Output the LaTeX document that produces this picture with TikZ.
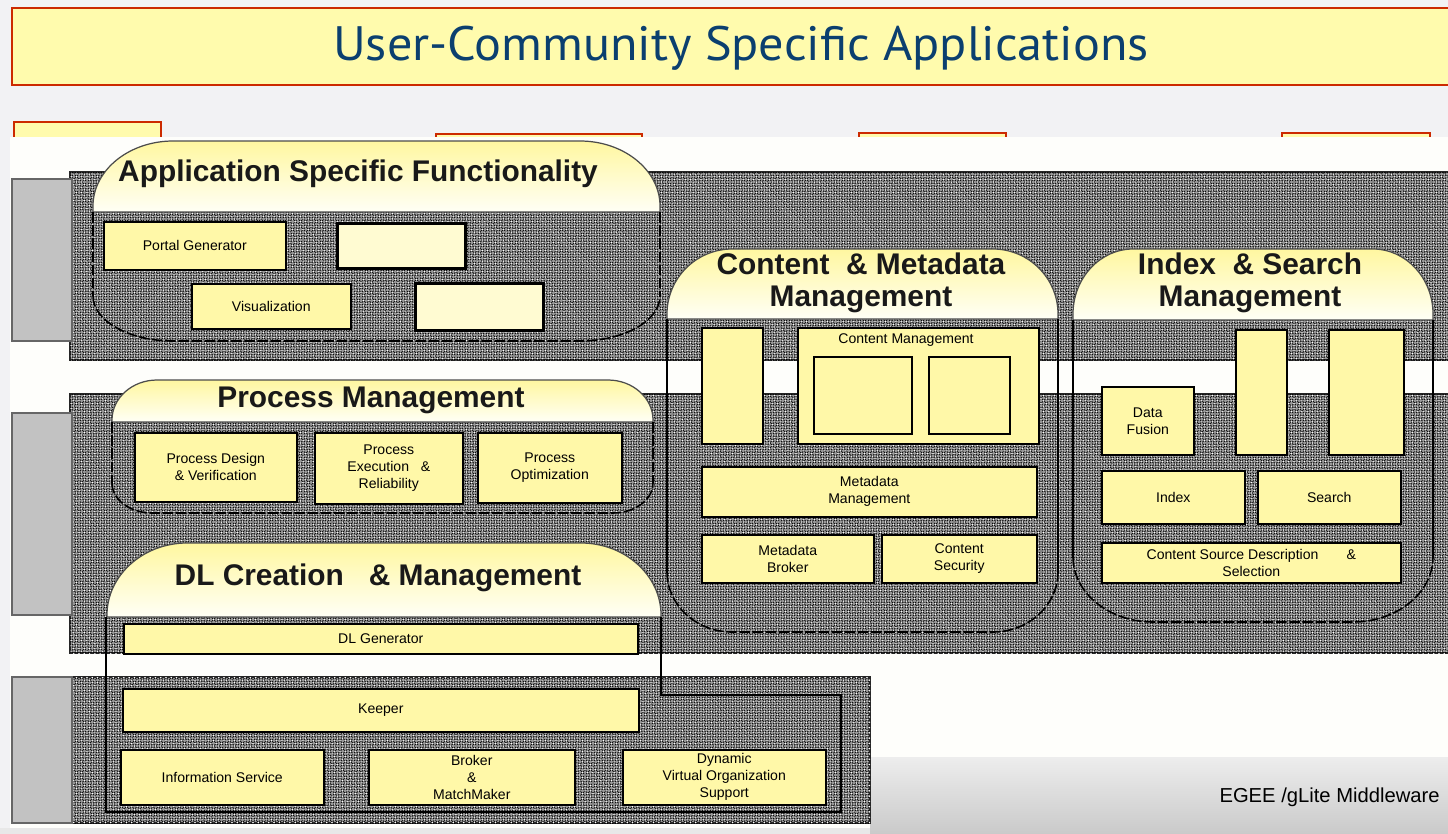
\documentclass[tikz,border=0pt]{standalone}
\usepackage{fontspec}
\setmainfont{Liberation Sans}
\newfontfamily\titlefont{PT Sans}
\usetikzlibrary{patterns}
\definecolor{bgc}{HTML}{F2F2F4}
\definecolor{banfill}{HTML}{FFFBAD}
\definecolor{banred}{HTML}{CC2A00}
\definecolor{titleblue}{HTML}{0B3F6F}
\definecolor{boxy}{HTML}{FFF8A8}
\definecolor{paley}{HTML}{FFFBD2}
\definecolor{tabg}{HTML}{C2C2C2}
\definecolor{hdrtop}{HTML}{FFF7A0}
\definecolor{hdrbot}{HTML}{FFFFF6}
\definecolor{panelc}{HTML}{FEFEFB}
\tikzset{
  hatchband/.style={fill=black!40, postaction={pattern=crosshatch, pattern color=black}, postaction={pattern=crosshatch dots, pattern color=white}, draw=black!85, line width=0.8pt},
  graytab/.style={fill=tabg, draw=black!60, line width=0.8pt},
  banbox/.style={fill=banfill, draw=banred, line width=1.2pt},
  hdrfill/.style={top color=hdrtop, bottom color=hdrbot, draw=black!70, line width=0.7pt},
  grpdash/.style={draw=black, line width=0.9pt, dash pattern=on 6pt off 1.5pt},
  grpline/.style={draw=black, line width=0.8pt},
  ybox/.style={draw=black, line width=0.9pt, fill=boxy, inner sep=1pt, align=center, font=\fontsize{8}{9.7}\selectfont},
  innerbox/.style={draw=black, line width=1.2pt, fill=boxy, inner sep=0pt},
  blankbox/.style={draw=black, line width=1.8pt, fill=paley, inner sep=0pt},
  hdrtext/.style={font=\fontsize{17}{18.2}\selectfont\bfseries, text=black!90, align=center, inner sep=0pt}
}
\newcommand\mybox[7]{\node[#6, anchor=north west, minimum width={(#4-#2)*0.02cm}, minimum height={(#5-#3)*0.02cm}] (#1) at (#2,#3) {#7};}
% header shape: x1 x2 ytop ybottom rx ry
\newcommand\hdrshape[6]{\path[hdrfill] (#1,#4) -- (#1,#3+#6) .. controls (#1,#3+0.45*#6) and (#1+0.45*#5,#3) .. (#1+#5,#3) -- (#2-#5,#3) .. controls (#2-0.45*#5,#3) and (#2,#3+0.45*#6) .. (#2,#3+#6) -- (#2,#4) -- cycle;}
% body outline: x1 x2 ytop ybottom rx ry, style for verticals
\newcommand\bodyline[7]{\draw[#7] (#1,#3) -- (#1,#4-#6);
  \draw[#7] (#2,#3) -- (#2,#4-#6);
  \draw[grpdash] (#1,#4-#6) .. controls (#1,#4-0.45*#6) and (#1+0.45*#5,#4) .. (#1+#5,#4) -- (#2-#5,#4) .. controls (#2-0.45*#5,#4) and (#2,#4-0.45*#6) .. (#2,#4-#6);}
\begin{document}
\begin{tikzpicture}[x=0.02cm, y=-0.02cm]
\useasboundingbox (0,0) rectangle (1448,833);
% background
\fill[bgc] (0,0) rectangle (1448,833);
% banner
\path[banbox] (12,8) rectangle (1470,85);
\node[font=\titlefont\fontsize{27.5}{30}\selectfont, text=titleblue, xscale=1.04] (title) at (741,48) {User-Community Specific Applications};
% small boxes hidden by panel
\path[banbox] (14,122) rectangle (161,160);
\path[banbox] (436,134) rectangle (642,160);
\path[banbox] (859,133) rectangle (1006,160);
\path[banbox] (1282,133) rectangle (1430,160);
% white panel
\fill[panelc] (10,137) -- (1460,137) -- (1460,757) -- (870,757) -- (870,828) -- (10,828) -- cycle;
\shade[top color=black!7, bottom color=black!22] (870,757) rectangle (1460,840);
\fill[black!9] (0,828) rectangle (870,840);
% bands
\path[hatchband] (70,172) rectangle (1470,360);
\path[hatchband] (70,394) rectangle (1470,653);
\path[hatchband] (72,677) rectangle (870,823);
% grey tabs
\path[graytab] (12,179) rectangle (72,341);
\path[graytab] (12,413) rectangle (72,615);
\path[graytab] (12,677) rectangle (72,823);
% group headers
\hdrshape{93}{660}{141}{212}{80}{65}
\hdrshape{112}{653}{380}{422}{45}{40}
\hdrshape{107}{661}{543}{617}{80}{72}
\hdrshape{667}{1058}{249}{319}{65}{65}
\hdrshape{1073}{1433}{249}{320}{60}{65}
% group outlines
\bodyline{93}{660}{212}{341}{80}{45}{grpdash}
\bodyline{112}{653}{422}{513}{40}{30}{grpdash}
\bodyline{667}{1058}{319}{632}{65}{60}{grpline}
\bodyline{1073}{1433}{320}{622}{80}{65}{grpline}
\draw[grpline, line width=1pt] (106,617) -- (106,812) -- (841,812) -- (841,695) -- (661,695) -- (661,617);
% header texts
\node[hdrtext] (hA) at (358,174) {Application Specific Functionality};
\node[hdrtext] (hB) at (371,400) {Process Management};
\node[hdrtext] (hC) at (378,578) {DL Creation\ \ \ \& Management};
\node[hdrtext] (hD) at (861,283) {Content\ \ \& Metadata\\Management};
\node[hdrtext] (hE) at (1250,283) {Index\ \ \& Search\\Management};
% application specific functionality
\mybox{pg}{103}{221}{285}{269}{ybox}{Portal Generator}
\mybox{bA1}{336}{222}{464}{267}{blankbox}{}
\mybox{vis}{191}{283}{350}{328}{ybox}{Visualization}
\mybox{bA2}{414}{282}{542}{329}{blankbox}{}
% process management
\mybox{pdv}{134}{432}{296}{501}{ybox}{Process Design\\\& Verification}
\mybox{per}{314}{432}{462}{503}{ybox}{Process\\Execution\ \ \ \&\\Reliability}
\mybox{po}{477}{432}{621}{502}{ybox}{Process\\Optimization}
% DL creation and management
\mybox{dlg}{123}{623}{637}{653}{ybox}{DL Generator}
\mybox{keeper}{122}{688}{638}{731}{ybox}{Keeper}
\mybox{info}{120}{749}{323}{804}{ybox}{Information Service}
\mybox{broker}{368}{749}{574}{804}{ybox}{Broker\\\&\\MatchMaker}
\mybox{dvos}{622}{749}{825}{804}{ybox}{Dynamic\\Virtual Organization\\Support}
% content and metadata management
\mybox{bD1}{701}{327}{762}{443}{ybox}{}
\mybox{cm}{797}{327}{1038}{443}{ybox}{}
\node[font=\fontsize{8}{9.7}\selectfont, inner sep=0pt] (cmlabel) at (906,340) {Content Management};
\mybox{cmi1}{813}{356}{911}{433}{innerbox}{}
\mybox{cmi2}{928}{356}{1009}{433}{innerbox}{}
\mybox{mm}{701}{466}{1036}{516}{ybox}{Metadata\\Management}
\mybox{mb}{701}{534}{873}{582}{ybox}{Metadata\\Broker}
\mybox{cs}{881}{534}{1036}{582}{ybox}{Content\\Security}
% index and search management
\mybox{df}{1101}{386}{1193}{454}{ybox}{Data\\Fusion}
\mybox{bE1}{1235}{329}{1286}{454}{ybox}{}
\mybox{bE2}{1328}{329}{1403}{454}{ybox}{}
\mybox{idx}{1101}{470}{1244}{523}{ybox}{Index}
\mybox{srch}{1257}{470}{1400}{523}{ybox}{Search}
\mybox{csds}{1101}{542}{1400}{582}{ybox}{Content Source Description\qquad\&\\Selection}
% footer
\node[anchor=east, font=\fontsize{11.5}{13}\selectfont, inner sep=0pt] (egee) at (1440,797) {EGEE /gLite Middleware};
\end{tikzpicture}
\end{document}
